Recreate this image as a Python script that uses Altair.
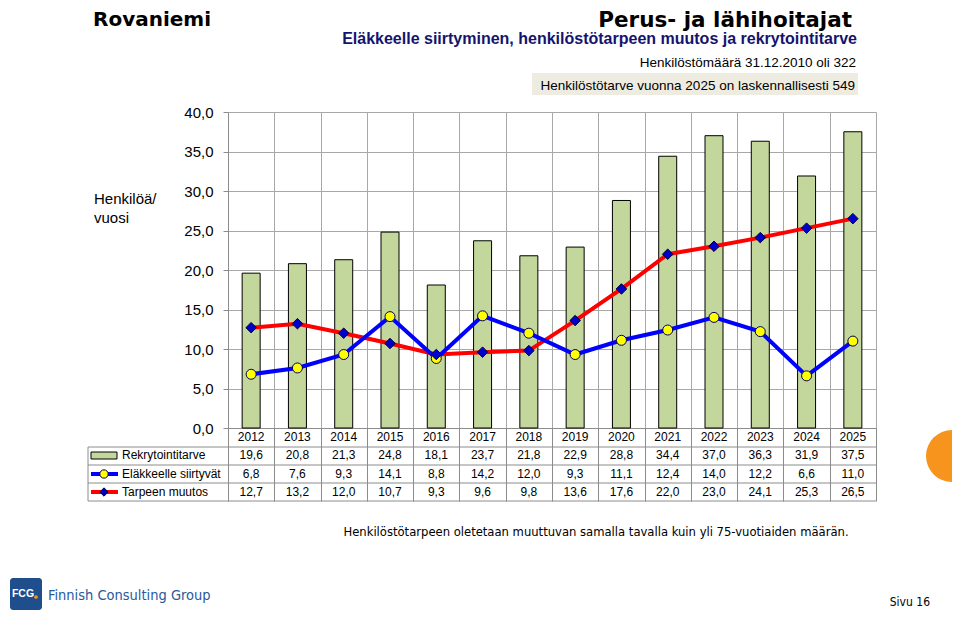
import math
import altair as alt
import pandas as pd

# ---- data ----
years = [str(y) for y in range(2012, 2026)]
rekrytointitarve = [19.6, 20.8, 21.3, 24.8, 18.1, 23.7, 21.8, 22.9, 28.8, 34.4, 37.0, 36.3, 31.9, 37.5]
elakkeelle_siirtyvat = [6.8, 7.6, 9.3, 14.1, 8.8, 14.2, 12.0, 9.3, 11.1, 12.4, 14.0, 12.2, 6.6, 11.0]
tarpeen_muutos = [12.7, 13.2, 12.0, 10.7, 9.3, 9.6, 9.8, 13.6, 17.6, 22.0, 23.0, 24.1, 25.3, 26.5]
y_ticks = [0, 5, 10, 15, 20, 25, 30, 35, 40]
series_names = ["Rekrytointitarve", "Eläkkeelle siirtyvät", "Tarpeen muutos"]

df = pd.DataFrame({"year": years, "rek": rekrytointitarve,
                   "ela": elakkeelle_siirtyvat, "tar": tarpeen_muutos})
one = pd.DataFrame({"a": [0]})

FONT = "Liberation Sans"
NARROW = "DejaVu Sans Condensed, Liberation Sans Narrow, Liberation Sans"
GREY = "#8c8c8c"
GRID = "#a8a8a8"
W, H = 648, 316
comma = "replace(format(datum.{f}, '.1f'), '.', ',')"

xscale = alt.Scale(domain=years, paddingInner=0, paddingOuter=0)
yscale = alt.Scale(domain=[0, 40], nice=False)
xaxis = alt.Axis(title=None, labels=False, tickBand="extent", tickSize=73,
                 tickColor=GREY, domainColor=GREY, grid=True, gridColor=GRID,
                 gridWidth=1, tickWidth=1, domainWidth=1)
yaxis = alt.Axis(title=None, values=y_ticks, tickSize=5, tickColor=GREY,
                 domainColor=GREY, grid=True, gridColor=GRID, gridWidth=1,
                 labelFont=FONT, labelFontSize=15, labelColor="black",
                 labelPadding=10,
                 labelExpr="replace(format(datum.value, '.1f'), '.', ',')")


def X():
    return alt.X("year:N", scale=xscale, axis=xaxis)


def Y(field):
    return alt.Y(f"{field}:Q", scale=yscale, axis=yaxis)


base = alt.Chart(df).transform_calculate(
    lrek=comma.format(f="rek"), lela=comma.format(f="ela"), ltar=comma.format(f="tar"))

bars = base.mark_bar(size=18, fill="#C3D69B", stroke="black", strokeWidth=1).encode(
    x=X(), y=Y("rek"))
red_line = base.mark_line(color="#FF0000", strokeWidth=4).encode(x=X(), y=Y("tar"))
blue_line = base.mark_line(color="#0000FF", strokeWidth=4).encode(x=X(), y=Y("ela"))
circles = base.mark_point(shape="circle", filled=True, fill="#FFFF00", stroke="#000060",
                          strokeWidth=1, size=100, opacity=1).encode(x=X(), y=Y("ela"))
diamonds = base.mark_point(shape="diamond", filled=True, fill="#0000CC", stroke="#000030",
                           strokeWidth=1, size=110, opacity=1).encode(x=X(), y=Y("tar"))


def cell_row(field, ypos):
    return base.mark_text(font=FONT, fontSize=12, color="black", baseline="middle").encode(
        x=X(), y=alt.value(ypos), text=f"{field}:N")


year_row = cell_row("year", 325)


def txt(s, x, y, **kw):
    return alt.Chart(one).mark_text(**kw).encode(
        x=alt.value(x), y=alt.value(y), text=alt.value(s))


def hrule(y, x1, x2, color=GREY, w=1):
    return alt.Chart(one).mark_rule(color=color, strokeWidth=w).encode(
        x=alt.value(x1), x2=alt.value(x2), y=alt.value(y))


table_lines = [hrule(y, -140, W) for y in (335, 353, 371, 389)]
table_lines.append(alt.Chart(one).mark_rule(color=GREY, strokeWidth=1).encode(
    x=alt.value(-140), y=alt.value(335), y2=alt.value(389)))

# legend swatches in the table
sw_rect = alt.Chart(one).mark_rect(fill="#C3D69B", stroke="black", strokeWidth=1).encode(
    x=alt.value(-137), x2=alt.value(-111), y=alt.value(340), y2=alt.value(347))
sw_blue = hrule(362, -137, -110, color="#0000FF", w=4)
sw_circ = alt.Chart(one).mark_point(shape="circle", filled=True, fill="#FFFF00",
                                    stroke="#000060", strokeWidth=1, size=70, opacity=1).encode(
    x=alt.value(-124), y=alt.value(362))
sw_red = hrule(380, -137, -110, color="#FF0000", w=4)
sw_diam = alt.Chart(one).mark_point(shape="diamond", filled=True, fill="#0000CC",
                                    stroke="#000030", strokeWidth=1, size=70, opacity=1).encode(
    x=alt.value(-124), y=alt.value(380))

row_labels = [txt(series_names[i], -106, y, font=FONT, fontSize=12, align="left",
                  baseline="middle", color="black") for i, y in enumerate((343, 361.5, 380))]

# titles & annotations
titles = [
    txt("Rovaniemi", -135, -92.5, font="DejaVu Sans", fontWeight="bold", fontSize=20,
        align="left", baseline="middle", color="black"),
    txt("Perus- ja lähihoitajat", 624, -85, font="DejaVu Sans", fontWeight="bold",
        fontSize=21.5, align="right", baseline="alphabetic", color="black"),
    txt("Eläkkeelle siirtyminen, henkilöstötarpeen muutos ja rekrytointitarve", 629, -68.5,
        font=FONT, fontWeight="bold", fontSize=16, align="right", baseline="alphabetic",
        color="#14146e"),
    txt("Henkilöstömäärä 31.12.2010 oli 322", 628, -45.5, font=FONT, fontSize=13.5,
        align="right", baseline="alphabetic", color="black"),
]
box = alt.Chart(one).mark_rect(fill="#EEECE1").encode(
    x=alt.value(304), x2=alt.value(630), y=alt.value(-39), y2=alt.value(-17))
titles.append(txt("Henkilöstötarve vuonna 2025 on laskennallisesti 549", 627, -22.5,
                  font=FONT, fontSize=13.5, align="right", baseline="alphabetic",
                  color="black"))
ytitle = txt(["Henkilöä/", "vuosi"], -134, 80, font=FONT, fontSize=15, align="left",
             baseline="top", lineHeight=19, color="black")
note = txt("Henkilöstötarpeen oletetaan muuttuvan  samalla tavalla kuin yli 75-vuotiaiden määrän.",
           368, 424, font=NARROW, fontSize=12.9, align="center",
           baseline="alphabetic", color="black")

# footer
logo_box = alt.Chart(one).mark_rect(fill="#1F4E8C", cornerRadius=3).encode(
    x=alt.value(-218), x2=alt.value(-186), y=alt.value(466), y2=alt.value(498))
logo_txt = txt("FCG", -205, 482, font=FONT, fontSize=10.5, fontWeight="bold",
               align="center", baseline="middle", color="white")
logo_dot = alt.Chart(one).mark_point(shape="circle", filled=True, color="#F7941D",
                                     size=14, opacity=1).encode(
    x=alt.value(-192), y=alt.value(485))
fcg_name = txt("Finnish Consulting Group", -180, 484, font=NARROW, fontSize=14.5,
               align="left", baseline="middle", color="#2A5A9C")
sivu = txt("Sivu 16", 702, 490, font=NARROW, fontSize=12, align="right",
           baseline="middle", color="black")
half = alt.Chart(one).mark_arc(theta=math.pi, theta2=2 * math.pi, radius=26,
                               color="#F7941D").encode(x=alt.value(724), y=alt.value(344))

chart = alt.layer(
    bars, red_line, blue_line, circles, diamonds,
    year_row, cell_row("lrek", 343), cell_row("lela", 361.5), cell_row("ltar", 380),
    *table_lines, sw_rect, sw_blue, sw_circ, sw_red, sw_diam, *row_labels,
    box, *titles, ytitle, note, logo_box, logo_txt, logo_dot, fcg_name, sivu, half,
).properties(
    width=W, height=H,
    autosize=alt.AutoSizeParams(type="none"),
    padding={"left": 220, "top": 104, "right": 76, "bottom": 184},
    background="white",
).configure_view(strokeWidth=0)

chart.save("out.html", embed_options={"renderer": "svg", "actions": False})
